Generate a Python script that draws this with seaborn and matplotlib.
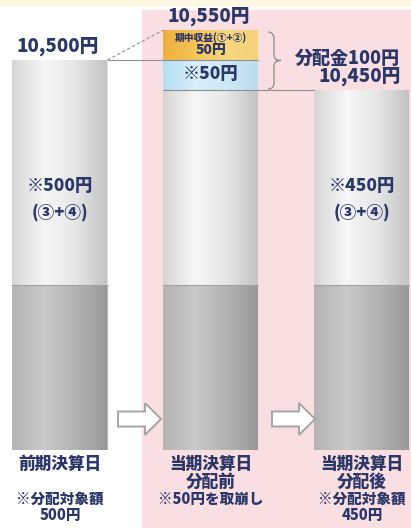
import numpy as np
import matplotlib
matplotlib.use('Agg')
import matplotlib.pyplot as plt
import seaborn as sns
from matplotlib.patches import Rectangle, FancyArrow, PathPatch
from matplotlib.path import Path
from matplotlib.transforms import Affine2D, blended_transform_factory
from matplotlib.colors import LinearSegmentedColormap

# values per stage (yen)
stages = ['前期決算日', '当期決算日\n分配前', '当期決算日\n分配後']
principal = [10000, 10000, 10000]
distributable = [500, 450, 450]   # ③+④
drawdown = [0, 50, 0]             # taken from ③+④
income = [0, 50, 0]               # 期中収益 ①+②
totals = [10500, 10550, 10450]
total_labels = ['10,500円', '10,550円', '10,450円']
inner_labels = ['※500円', '', '※450円']
notes = ['※分配対象額\n500円', '※50円を取崩し', '※分配対象額\n450円']
payout_label = '分配金100円'

NAVY = '#2c3769'

sns.set_theme(style='white')
plt.rcParams['font.family'] = ['Noto Sans CJK JP', 'DejaVu Sans']

fig = plt.figure(figsize=(4.11, 5.28), dpi=100)
ax = fig.add_axes([0, 0, 1, 1])

# schematic (broken) value scale: principal compressed, top part stretched
y_knots = [-4727, 0, 10000, 10450, 10600]
h_knots = [-78, 0, 165, 360, 450]
def fwd(v):
    return np.interp(v, y_knots, h_knots)
def inv(h):
    return np.interp(h, h_knots, y_knots)
ax.set_yscale('function', functions=(fwd, inv))

# pixel transform (origin top-left) for decorations
px = Affine2D().scale(1 / 411, -1 / 528).translate(0, 1) + fig.transFigure
bx = blended_transform_factory(ax.transData, px)

# backgrounds
ax.add_patch(Rectangle((0, 0), 411, 7, transform=px, color='#fdf7e3', zorder=0, lw=0))
ax.add_patch(Rectangle((142, 10), 269, 518, transform=px, color='#f9dfe2', zorder=0, lw=0))

W = 0.63
bottom2 = np.add(principal, distributable)
bottom3 = bottom2 + np.array(drawdown)
layers = [
    (principal, np.zeros(3), '#b3b3b3'),
    (distributable, np.array(principal), '#e2e2e2'),
    (drawdown, bottom2, '#c6e6f6'),
    (income, bottom3, '#f3c45c'),
]
for vals, bot, col in layers:
    sns.barplot(x=stages, y=vals, bottom=bot, color=col, saturation=1,
                width=W, errorbar=None, edgecolor='none', ax=ax, zorder=2)

cmaps = [
    LinearSegmentedColormap.from_list('dark', ['#b4b4b4', '#c9c9c9', '#b3b3b3', '#989898']),
    LinearSegmentedColormap.from_list('light', ['#d6d6d6', '#f7f7f7', '#e6e6e6', '#c2c2c2']),
    LinearSegmentedColormap.from_list('blue', ['#b3def3', '#d9effa', '#cde8f6', '#bcdcee']),
    LinearSegmentedColormap.from_list('orange', ['#eeb03c', '#f3c458', '#f7d67e', '#f5d27a']),
]
for cont, cmap in zip(ax.containers, cmaps):
    for bar in cont.patches:
        if bar.get_height() <= 0:
            continue
        x0, y0 = bar.get_x(), bar.get_y()
        im = ax.imshow(np.linspace(0, 1, 256)[None, :], cmap=cmap, aspect='auto',
                       extent=[x0, x0 + bar.get_width(), y0, y0 + bar.get_height()],
                       origin='lower', interpolation='bilinear', zorder=2.5)
        im.set_clip_path(bar)

# boundary between principal and distributable part
for i in range(3):
    ax.plot([i - W / 2, i + W / 2], [principal[i], principal[i]], color='#a3a3a3', lw=0.8, zorder=3)

# guide lines
ax.plot([W / 2, 1 + W / 2], [totals[0], totals[0]], color='#8f8f8f', lw=0.8, zorder=3)
ax.plot([W / 2, 1 - W / 2], [totals[0], totals[1]], color='#8f8f8f', lw=0.8, ls=(0, (3, 2)), zorder=3)
ax.plot([1 - W / 2, 2 - W / 2], [totals[2], totals[2]], color='#8f8f8f', lw=0.8, zorder=3)

# brace for the payout
verts = [(268, 32), (274, 32), (274, 39), (274, 55), (274, 60.5), (281, 60.5),
         (274, 60.5), (274, 66), (274, 83), (274, 89), (268, 89)]
codes = [Path.MOVETO, Path.CURVE3, Path.CURVE3, Path.LINETO, Path.CURVE3, Path.CURVE3,
         Path.CURVE3, Path.CURVE3, Path.LINETO, Path.CURVE3, Path.CURVE3]
ax.add_patch(PathPatch(Path(verts, codes), transform=px, fc='none', ec='#8a8a8a', lw=0.9, zorder=3))
ax.text(347, 58, payout_label, transform=px, ha='center', va='center',
        fontsize=13, fontweight='heavy', color=NAVY, zorder=4)

# arrows between stages
for x0 in [118, 272]:
    ax.add_patch(FancyArrow(x0, 419, 43, 0, width=15, head_width=32, head_length=16,
                            length_includes_head=True, transform=px, fc='white',
                            ec='#a5a5a5', lw=1.4, zorder=3))

# totals above bars
for i, (t, lab) in enumerate(zip(totals, total_labels)):
    ax.annotate(lab, xy=(i, t), xytext=(-1.5, 3), textcoords='offset points',
                ha='center', va='bottom', fontsize=13.5,
                fontweight='heavy', color=NAVY, zorder=4)

# labels inside bars
for i, lab in enumerate(inner_labels):
    if lab:
        ax.text(i, 186, lab, transform=bx, ha='center', va='center',
                fontsize=12.5, fontweight='heavy', color=NAVY, zorder=4)
        ax.text(i, 212, '(③+④)', transform=bx, ha='center', va='center',
                fontsize=12, fontweight='heavy', color=NAVY, zorder=4)
ax.text(1, 38, '期中収益(①+②)', transform=bx, ha='center', va='center',
        fontsize=7, fontweight='heavy', color=NAVY, zorder=4)
ax.text(1, 50, f'{income[1]}円', transform=bx, ha='center', va='center',
        fontsize=10, fontweight='heavy', color=NAVY, zorder=4)
ax.text(1, 74, f'※{drawdown[1]}円', transform=bx, ha='center', va='center',
        fontsize=12.5, fontweight='heavy', color=NAVY, zorder=4)

# stage names and notes
for i, (st, note) in enumerate(zip(stages, notes)):
    ax.text(i, 455, st, transform=bx, ha='center', va='top', linespacing=1.0,
            fontsize=12, fontweight='heavy', color=NAVY, zorder=4)
    ax.text(i, 492, note, transform=bx, ha='center', va='top', linespacing=1.05,
            fontsize=10.5, fontweight='heavy', color=NAVY, zorder=4)

ax.set_xlim(-0.397, 2.325)
ax.set_ylim(-4727, 10600)
ax.axis('off')

fig.savefig('out.png', dpi=100, facecolor='white')
